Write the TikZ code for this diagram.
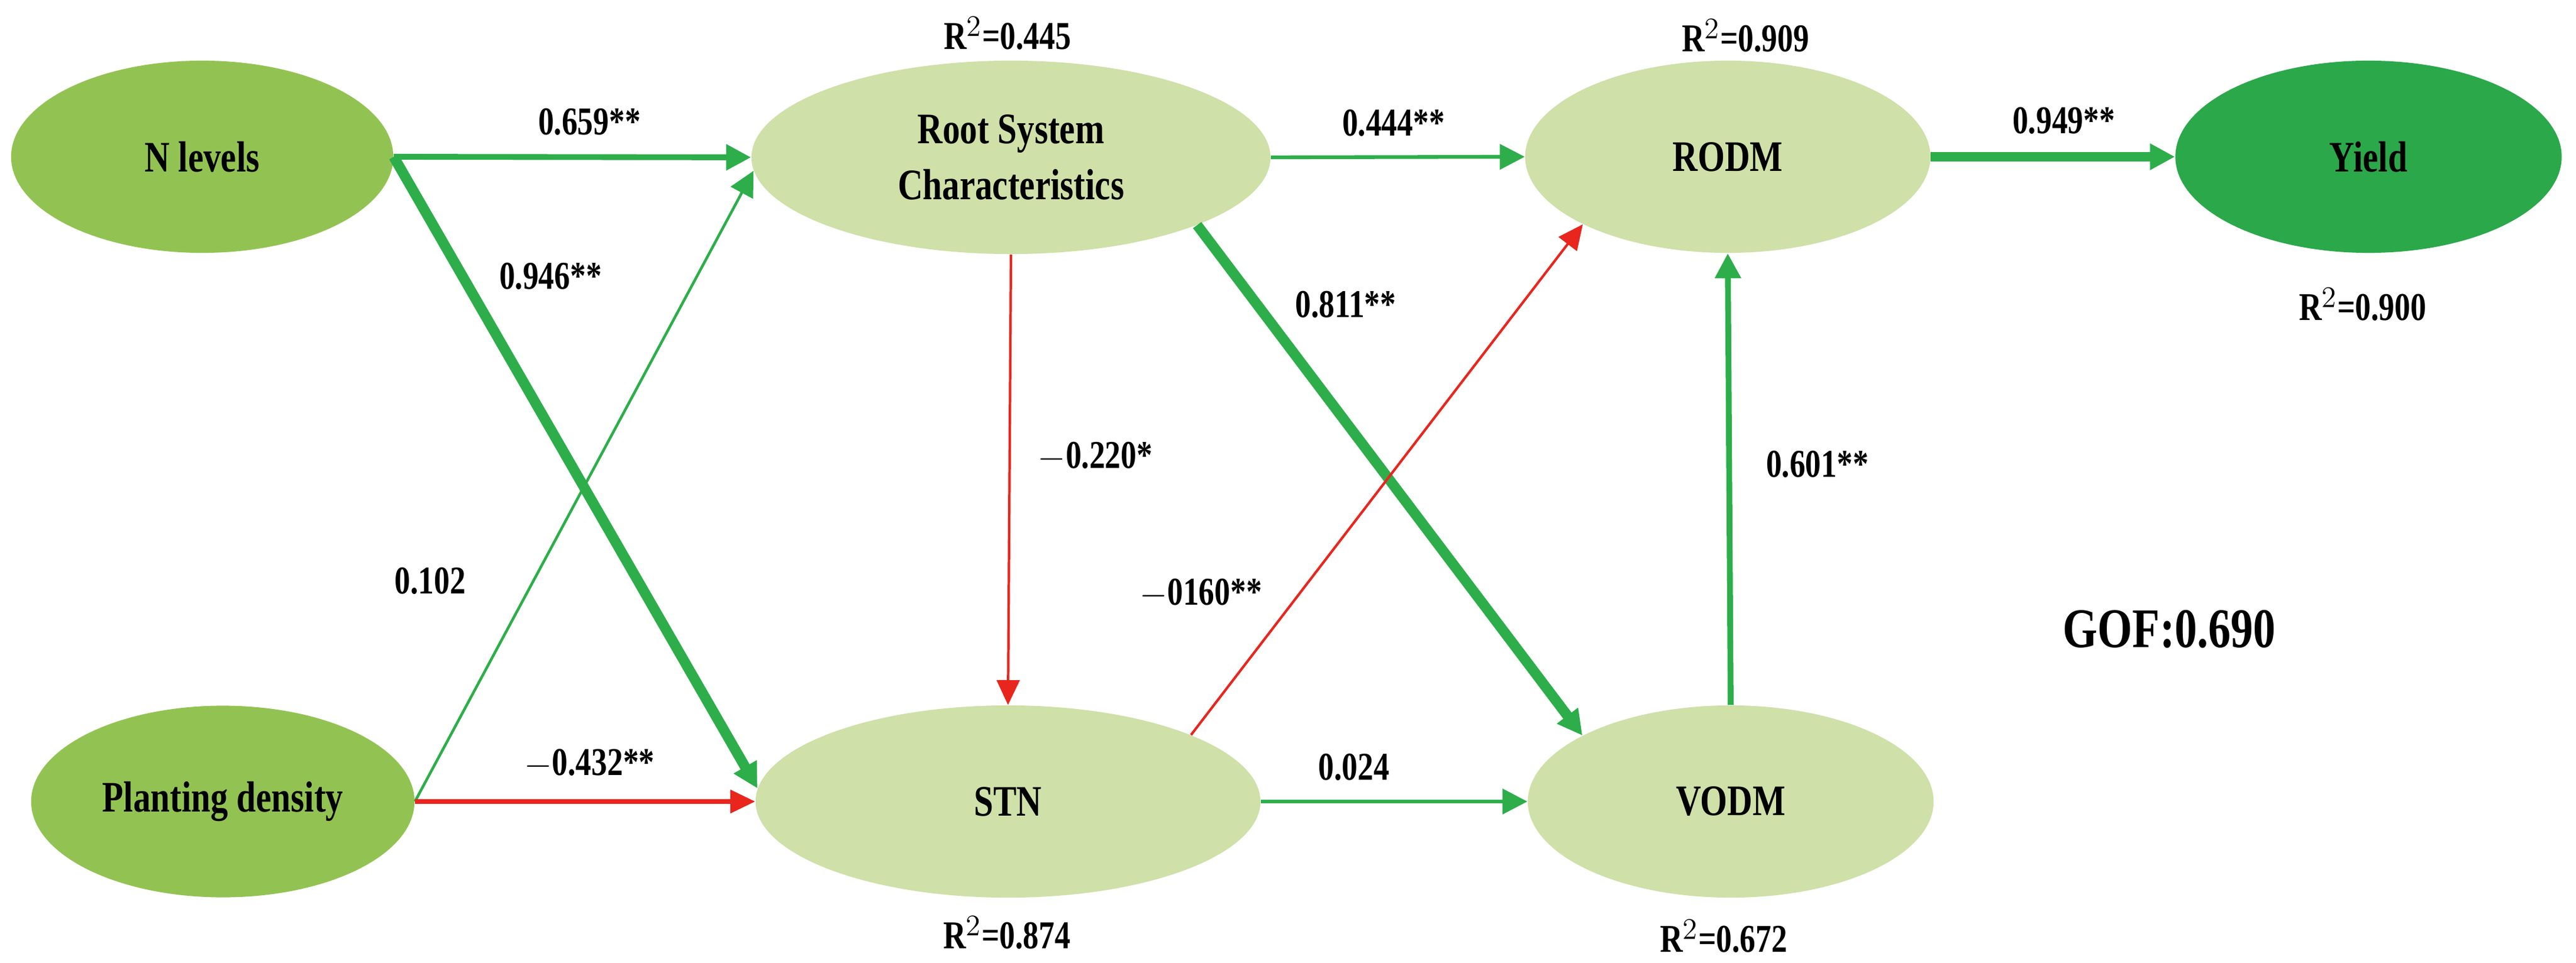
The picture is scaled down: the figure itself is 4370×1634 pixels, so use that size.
\documentclass[tikz,border=0pt]{standalone}
\usepackage{fontspec}
\setmainfont{Liberation Serif}[FakeStretch=0.8]
\usetikzlibrary{arrows.meta,shapes.geometric}
\definecolor{dg}{HTML}{92C352}
\definecolor{lg}{HTML}{CFE0A8}
\definecolor{yg}{HTML}{2BA84A}
\definecolor{ag}{HTML}{2DAE4A}
\definecolor{ar}{HTML}{E8261E}
\tikzset{
 ell/.style={ellipse,inner sep=0pt,font=\fontsize{21}{25}\selectfont\bfseries,align=center},
 lab/.style={font=\fontsize{19}{22}\selectfont\bfseries,inner sep=1pt},
 ga/.style={draw=ag,-{Triangle[length=12pt,width=12pt]}},
 ra/.style={draw=ar,-{Triangle[length=12pt,width=11pt]}},
}
\begin{document}
\begin{tikzpicture}[x=0.01cm,y=-0.01cm]
\useasboundingbox (0,0) rectangle (4370,1634);
\node[ell,fill=dg,minimum width=6.48cm,minimum height=3.26cm] (nl) at (343,266) {N levels};
\node[ell,fill=dg,minimum width=6.5cm,minimum height=3.25cm] (pd) at (378,1360) {Planting density};
\node[ell,fill=lg,minimum width=8.8cm,minimum height=3.28cm] (rs) at (1715,267) {Root System\\[2pt]Characteristics};
\node[ell,fill=lg,minimum width=8.56cm,minimum height=3.26cm] (stn) at (1710,1360) {STN};
\node[ell,fill=lg,minimum width=6.87cm,minimum height=3.26cm] (ro) at (2931,266) {RODM};
\node[ell,fill=lg,minimum width=6.88cm,minimum height=3.26cm] (vo) at (2936,1360) {VODM};
\node[ell,fill=yg,minimum width=6.55cm,minimum height=3.26cm] (yi) at (4018,266) {Yield};

\draw[ga,line width=2.8pt] (nl.east) -- (rs.west);
\draw[ga,line width=5pt] (nl.east) -- (stn.177);
\draw[ga,line width=1.3pt] (pd.east) -- (rs.183);
\draw[ra,line width=2pt] (pd.east) -- (stn.west);
\draw[ga,line width=1.8pt] (rs.east) -- (ro.west);
\draw[ga,line width=5pt] (rs.-20) -- (vo.156);
\draw[ra,line width=1.2pt] (rs.south) -- (stn.north);
\draw[ra,line width=1.2pt] (stn.20) -- (ro.205);
\draw[ga,line width=1.8pt] (stn.east) -- (vo.west);
\draw[ga,line width=2.8pt] (vo.north) -- (ro.south);
\draw[ga,line width=4.8pt] (ro.east) -- (yi.west);

\node[lab] (l1) at (1000,207) {0.659**};
\node[lab] (l2) at (934,469) {0.946**};
\node[lab] (l3) at (730,986) {0.102};
\node[lab] (l4) at (1000,1296) {$-$0.432**};
\node[lab] (l5) at (2364,209) {0.444**};
\node[lab] (l6) at (2283,517) {0.811**};
\node[lab] (l7) at (1858,775) {$-$0.220*};
\node[lab] (l8) at (2037,1007) {$-$0160**};
\node[lab] (l9) at (2297,1302) {0.024};
\node[lab] (l10) at (3083,788) {0.601**};
\node[lab] (l11) at (3501,205) {0.949**};
\node[lab] (r1) at (1709,57) {R$^2$=0.445};
\node[lab] (r2) at (2961,61) {R$^2$=0.909};
\node[lab] (r3) at (4008,517) {R$^2$=0.900};
\node[lab] (r4) at (1708,1583) {R$^2$=0.874};
\node[lab] (r5) at (2924,1589) {R$^2$=0.672};
\node[lab,font=\fontsize{27}{30}\selectfont\bfseries] (gof) at (3680,1068) {GOF:0.690};
\end{tikzpicture}
\end{document}
